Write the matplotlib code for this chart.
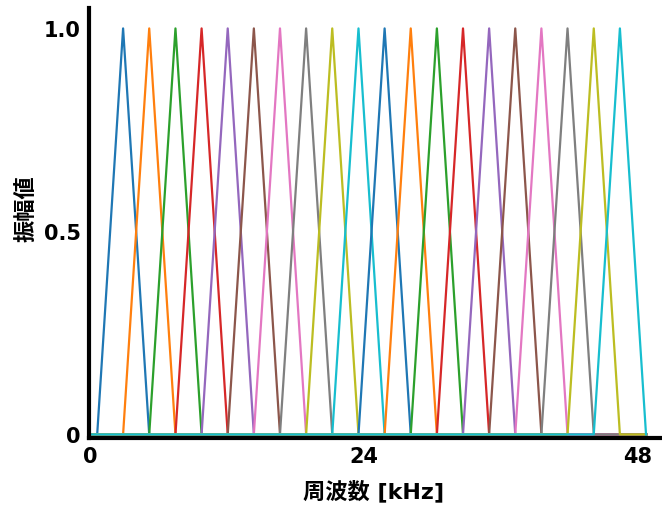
"""Triangular filter bank (20 linear filters, 0-48 kHz)."""
import matplotlib
matplotlib.use("Agg")
import matplotlib.pyplot as plt

# filter edge frequencies [kHz] (22 points -> 20 filters)
edges_khz = [0.60, 2.87, 5.16, 7.46, 9.75, 12.04, 14.33, 16.62, 18.91, 21.20,
             23.50, 25.79, 28.08, 30.37, 32.66, 34.95, 37.24, 39.53, 41.82,
             44.12, 46.41, 48.70]
freq_start = 0.0
xticks = [0, 24, 48]
xtick_labels = ["0", "24", "48"]
yticks = [0, 0.5, 1.0]
ytick_labels = ["0", "0.5", "1.0"]

FONT = ["DejaVu Sans", "Noto Sans CJK JP"]
plt.rcParams["font.family"] = FONT


def main(out_path="out.png"):
    fig = plt.figure(figsize=(6.62, 5.06), dpi=100)
    ax = fig.add_axes([0.1344, 0.133, 0.8656, 0.8498])

    fmax = edges_khz[-1]
    for i in range(len(edges_khz) - 2):
        lo, mid, hi = edges_khz[i], edges_khz[i + 1], edges_khz[i + 2]
        xs = [freq_start, lo, mid, hi, fmax]
        ys = [0, 0, 1, 0, 0]
        ax.plot(xs, ys, linewidth=1.6)

    ax.set_xlim(-0.12, 50.1)
    ax.set_ylim(-0.008, 1.051)

    ax.set_xticks(xticks)
    ax.set_xticklabels(xtick_labels)
    ax.set_yticks(yticks)
    ax.set_yticklabels(ytick_labels)
    ax.tick_params(length=0, labelsize=15, pad=6)
    for lab in ax.get_xticklabels() + ax.get_yticklabels():
        lab.set_fontweight("bold")

    for side in ("top", "right"):
        ax.spines[side].set_visible(False)
    for side in ("left", "bottom"):
        ax.spines[side].set_linewidth(3)
        ax.spines[side].set_color("black")

    ax.set_xlabel("周波数 [kHz]", fontsize=16, fontweight="bold")
    ax.set_ylabel("振幅値", fontsize=16, fontweight="bold")
    ax.xaxis.set_label_coords(0.497, -0.095)
    ax.yaxis.set_label_coords(-0.092, 0.536)

    fig.savefig(out_path)


if __name__ == "__main__":
    main()
